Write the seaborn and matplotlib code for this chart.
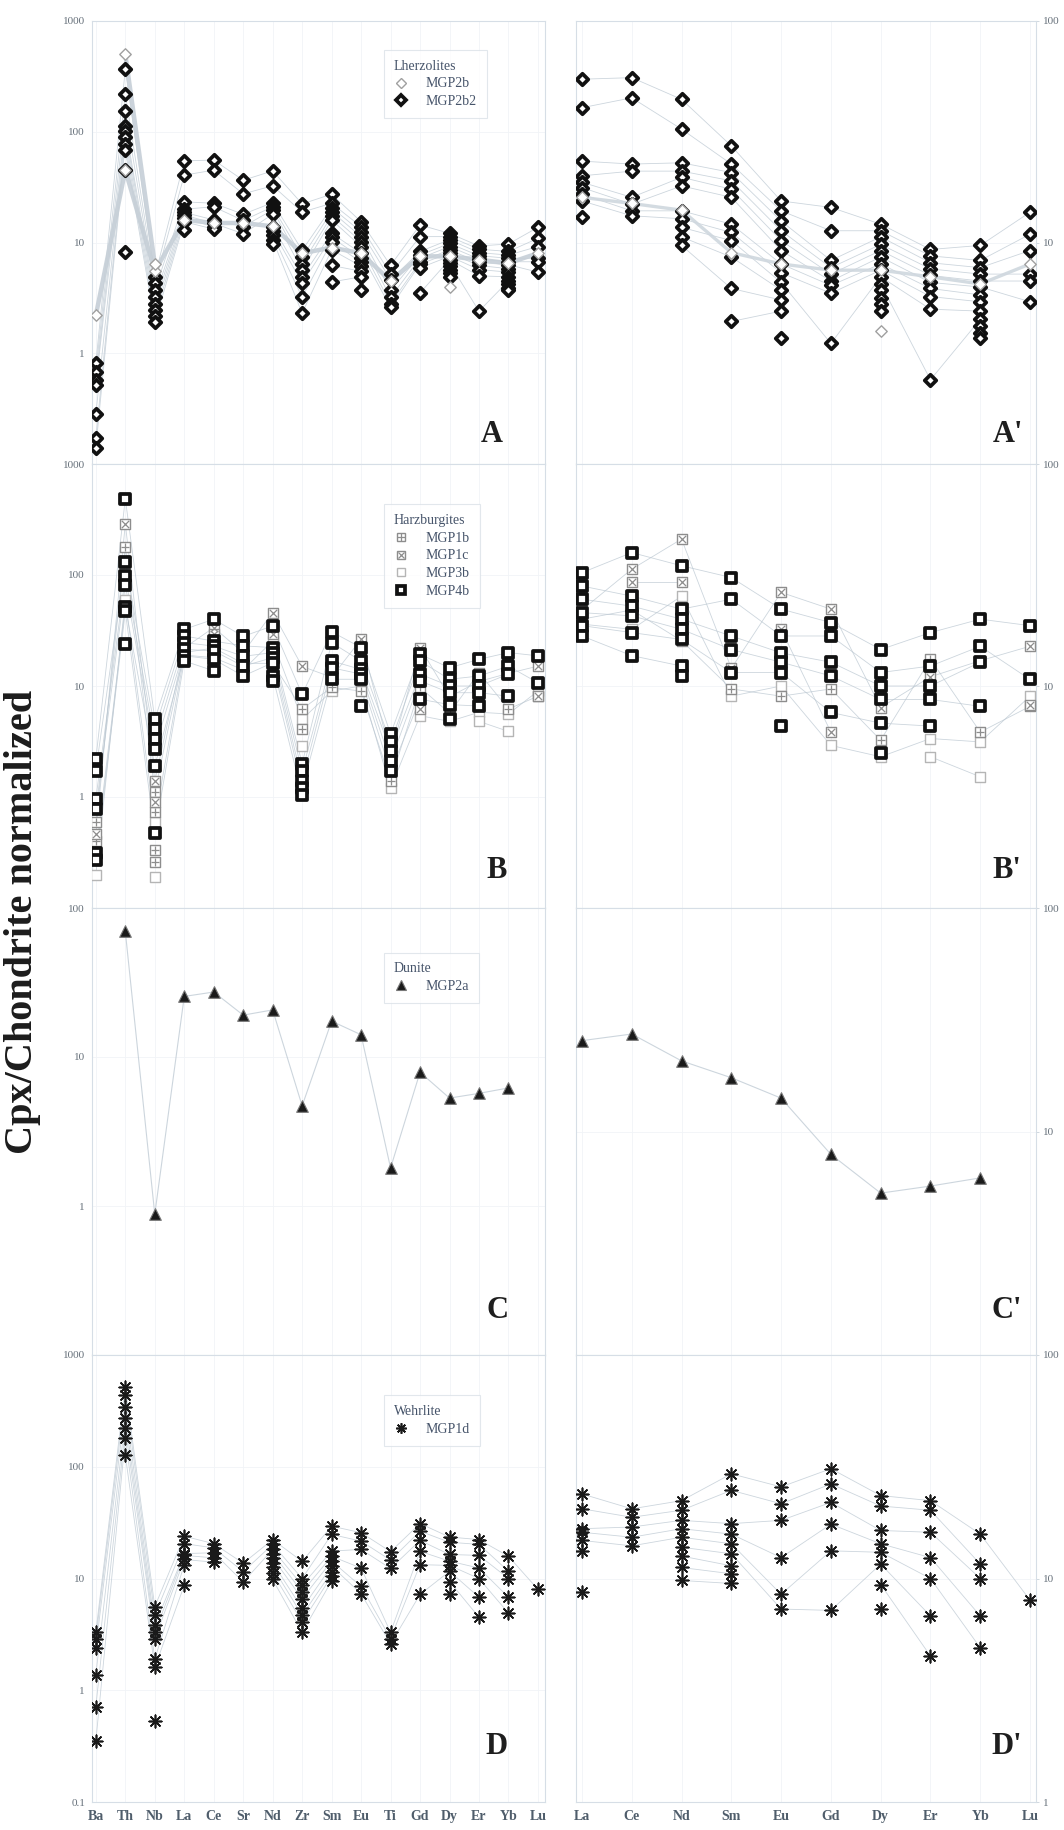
import numpy as np
import pandas as pd
import matplotlib
matplotlib.use("Agg")
import matplotlib.pyplot as plt
import seaborn as sns
from matplotlib.lines import Line2D
from matplotlib.ticker import FixedLocator, FixedFormatter, NullLocator

# ---------------------------------------------------------------- elements
TRACE = ["Ba", "Th", "Nb", "La", "Ce", "Sr", "Nd", "Zr", "Sm", "Eu",
         "Ti", "Gd", "Dy", "Er", "Yb", "Lu"]
REE = ["La", "Ce", "Nd", "Sm", "Eu", "Gd", "Dy", "Er", "Yb", "Lu"]

# ---------------------------------------------------------------- lherzolites
mgp2b = {
    "Ba": [2.2], "Th": [45, 500], "Nb": [5.5, 6.4], "La": [16], "Ce": [15],
    "Sr": [15], "Nd": [14], "Zr": [8], "Sm": [9], "Eu": [8], "Ti": [4.5],
    "Gd": [7.5], "Dy": [7.5, 4.0], "Er": [7], "Yb": [6.5], "Lu": [8],
}
mgp2b2 = {
    "Ba": [0.81, 0.68, 0.575, 0.52, 0.28, 0.17, 0.14],
    "Th": [367, 219, 155, 113, 102, 89, 77.6, 68, 45, 8.2],
    "Nb": [4.9, 4.3, 3.7, 3.2, 2.8, 2.45, 2.15, 1.9],
    "La": [54.6, 40.6, 23.3, 20, 18.7, 17.7, 16.5, 15.4, 13],
    "Ce": [55.5, 45, 22.6, 21, 16, 14.9, 13.9, 13.2],
    "Sr": [36.5, 27.5, 18, 15.8, 13.9, 12],
    "Nd": [44.3, 32.5, 22.9, 21, 19.7, 18, 13.9, 12.8, 11.7, 10.6, 9.7],
    "Zr": [22.3, 18.8, 8.5, 7.4, 6.4, 5.6, 4.9, 4.3, 3.2, 2.3],
    "Sm": [27.3, 22.6, 20.7, 19, 17.4, 16, 12.1, 11.1, 10.2, 8.6, 6.2, 4.4],
    "Eu": [15.4, 13.9, 12.5, 11.3, 10.2, 9.2, 8, 7.3, 6.6, 6.1, 5.5, 4.9, 3.7],
    "Ti": [6.2, 5.2, 4.6, 3.7, 3.2, 2.8, 2.6],
    "Gd": [14.4, 11.3, 8.3, 7.7, 7.2, 6.7, 6.4, 5.9, 3.5],
    "Dy": [12.1, 11.3, 10.6, 9.8, 9.2, 8.6, 8, 7.5, 7, 6.5, 6.1, 5.6, 5.3, 4.9],
    "Er": [9.3, 8.7, 8.1, 7.6, 7.1, 6.6, 6.2, 5.7, 5, 2.4],
    "Yb": [9.7, 8.3, 7.7, 7.2, 6.7, 6.3, 5.8, 5.4, 4.9, 4.5, 4.2, 3.9, 3.7],
    "Lu": [13.7, 10.9, 9.2, 7.2, 6.7, 5.4],
}

# ---------------------------------------------------------------- harzburgites
mgp1b = {
    "Ba": [0.6, 0.4], "Th": [180], "Nb": [1.1, 0.73, 0.33, 0.26], "La": [20],
    "Ce": [22], "Sr": [16], "Nd": [16], "Zr": [6.2, 4.1], "Sm": [9.7],
    "Eu": [9.0], "Ti": [1.4], "Gd": [9.7], "Dy": [5.7], "Er": [13.2],
    "Yb": [6.2], "Lu": [8.1],
}
mgp1c = {
    "Ba": [0.46], "Th": [290], "Nb": [1.4, 0.9], "La": [22], "Ce": [33.6, 29.3],
    "Sr": [20], "Nd": [45.9, 29.3], "Zr": [15], "Sm": [12], "Eu": [26.4, 18],
    "Ti": [2.4], "Gd": [22.2, 6.2], "Dy": [8], "Er": [11], "Yb": [13],
    "Lu": [15.1, 8.2],
}
mgp3b = {
    "Ba": [0.2], "Th": [60], "Nb": [0.6, 0.19], "La": [19], "Ce": [18],
    "Sr": [14], "Nd": [25.4], "Zr": [5, 2.9], "Sm": [9], "Eu": [10],
    "Ti": [1.2], "Gd": [5.4], "Dy": [4.8], "Er": [5.8, 4.8], "Yb": [5.6, 3.9],
    "Lu": [9],
}
mgp4b = {
    "Ba": [2.2, 1.73, 0.96, 0.78, 0.31, 0.27],
    "Th": [486, 132, 97, 81, 52, 47, 24],
    "Nb": [5, 4.1, 3.3, 2.7, 1.9, 0.47],
    "La": [32.4, 28.2, 24.6, 21.4, 18.7, 16.8],
    "Ce": [39.9, 25.4, 22.9, 20.7, 17.4, 13.7],
    "Sr": [28, 23, 18.5, 15.1, 12.3],
    "Nd": [34.8, 22.2, 20, 18, 16.2, 12.3, 11.1],
    "Zr": [8.4, 2.0, 1.7, 1.4, 1.2, 1.05],
    "Sm": [30.8, 24.6, 16.8, 14.6, 11.5],
    "Eu": [22.2, 16.8, 14.1, 12.8, 11.5, 6.6],
    "Ti": [3.7, 3.1, 2.6, 2.1, 1.7],
    "Gd": [19.3, 16.8, 12.8, 11.1, 7.6],
    "Dy": [14.6, 11.5, 10, 8.7, 6.8, 5],
    "Er": [17.4, 12.3, 10, 8.7, 6.6],
    "Yb": [20, 15.1, 12.8, 8.1],
    "Lu": [18.7, 10.7],
}

# ---------------------------------------------------------------- dunite
mgp2a = {
    "Th": [69.6], "Nb": [0.88], "La": [25.5], "Ce": [27.3], "Sr": [19.1],
    "Nd": [20.7], "Zr": [4.7], "Sm": [17.4], "Eu": [14.1], "Ti": [1.8],
    "Gd": [7.9], "Dy": [5.3], "Er": [5.7], "Yb": [6.2],
}

# ---------------------------------------------------------------- wehrlite
mgp1d = {
    "Ba": [3.3, 2.9, 2.4, 1.37, 0.71, 0.35],
    "Th": [520, 438, 345, 271, 220, 180, 127],
    "Nb": [5.6, 4.7, 3.8, 3.3, 2.9, 1.9, 1.6, 0.53],
    "La": [23.9, 20.5, 16.7, 16.1, 14.8, 13.3, 8.7],
    "Ce": [20.5, 18.8, 17, 15.3, 14],
    "Sr": [13.7, 11.5, 9.3],
    "Nd": [22.3, 20.2, 18.2, 16.7, 15.3, 13.8, 12.6, 11.2, 9.8],
    "Zr": [14.2, 10, 8.7, 7.6, 6.6, 5.4, 4.7, 4.1, 3.3],
    "Sm": [29.4, 24.8, 17.6, 15.8, 14.3, 12.9, 11.4, 10.5, 9.5],
    "Eu": [25.7, 21.6, 18.2, 12.4, 8.5, 7.3],
    "Ti": [17.4, 14.6, 12.3, 3.3, 2.9, 2.6],
    "Gd": [31, 26.5, 21.9, 17.5, 13.3, 7.2],
    "Dy": [23.5, 21.1, 16.4, 14.3, 13.1, 11.6, 9.4, 7.3],
    "Er": [22.3, 20.2, 16.1, 12.4, 10, 6.8, 4.5],
    "Yb": [15.8, 11.6, 10, 6.8, 4.9],
    "Lu": [8],
}

# ---------------------------------------------------------------- styles
LINE_C = "#bcc8d2"
STYLES = {
    "MGP2b":  [dict(marker="D", s=34, facecolor="white", edgecolor="#a0a0a0", linewidth=1.0)],
    "MGP2b2": [dict(marker="D", s=34, facecolor="white", edgecolor="#111111", linewidth=2.7)],
    "MGP1b":  [dict(marker="s", s=48, facecolor="white", edgecolor="#8d8d8d", linewidth=1.0),
               dict(marker="+", s=40, color="#8d8d8d", edgecolor=None, linewidth=0.9)],
    "MGP1c":  [dict(marker="s", s=48, facecolor="white", edgecolor="#8d8d8d", linewidth=1.0),
               dict(marker="x", s=28, color="#8d8d8d", edgecolor=None, linewidth=0.9)],
    "MGP3b":  [dict(marker="s", s=48, facecolor="white", edgecolor="#b5b5b5", linewidth=1.0)],
    "MGP4b":  [dict(marker="s", s=42, facecolor="white", edgecolor="#111111", linewidth=2.7)],
    "MGP2a":  [dict(marker="^", s=70, facecolor="#1a1a1a", edgecolor="#777777", linewidth=0.8)],
    "MGP1d":  [dict(marker=(8, 2, 0), s=80, color="#1a1a1a", edgecolor=None, linewidth=1.2)],
}


def legend_handle(name):
    hs = []
    for st in STYLES[name]:
        m = st["marker"]
        size = np.sqrt(st["s"]) * 0.85
        if m in ("+", "x") or isinstance(m, tuple):
            hs.append(Line2D([], [], ls="none", marker=m, color=st["color"],
                             markersize=size, mew=st["linewidth"]))
        else:
            hs.append(Line2D([], [], ls="none", marker=m, mfc=st["facecolor"],
                             mec=st["edgecolor"], markersize=size,
                             mew=st["linewidth"]))
    return tuple(hs) if len(hs) > 1 else hs[0]


def long_table(data, elements):
    rows = []
    for el in elements:
        for run, v in enumerate(data.get(el, [])):
            rows.append({"x": elements.index(el), "value": v, "run": run})
    df = pd.DataFrame(rows).sort_values(["run", "x"]).reset_index(drop=True)
    # split a run wherever an element is missing so lines do not bridge gaps
    seg = df.groupby("run")["x"].transform(lambda s: (s.diff().fillna(1) > 1).cumsum())
    df["unit"] = df["run"].astype(str) + "-" + seg.astype(str)
    return df


def draw_series(ax, name, data, elements, lw=0.6, lc=LINE_C, zline=1, alpha=0.75):
    df = long_table(data, elements)
    sns.lineplot(data=df, x="x", y="value", units="unit", estimator=None,
                 sort=True, color=lc, lw=lw, alpha=alpha, ax=ax, legend=False,
                 zorder=zline)
    for st in STYLES[name]:
        sns.scatterplot(data=df, x="x", y="value", ax=ax, legend=False,
                        zorder=4, **st)


# ---------------------------------------------------------------- layout
sns.set_theme(style="white")
plt.rcParams["font.family"] = ["Liberation Serif", "DejaVu Serif"]

W, H = 1064, 1830
fig = plt.figure(figsize=(W / 100, H / 100), dpi=100)
fig.patch.set_facecolor("white")

ROW_Y = [21, 464, 908, 1355, 1802]
LX = (92, 545)
RX = (576, 1036)


def make_ax(xr, r):
    y0, y1 = ROW_Y[r], ROW_Y[r + 1]
    return fig.add_axes([xr[0] / W, 1 - y1 / H, (xr[1] - xr[0]) / W, (y1 - y0) / H])


def style_ax(ax, elements, ylim, ylabels, side, show_x):
    ax.set_yscale("log")
    ax.set_ylim(*ylim)
    n = len(elements)
    if side == "left":
        ax.set_xlim(-0.13, n - 1 + 0.24)
    else:
        ax.set_xlim(-0.12, n - 1 + 0.12)
    ax.set_xlabel("")
    ax.set_ylabel("")
    for sp in ax.spines.values():
        sp.set_color("#d6dee6")
        sp.set_linewidth(0.8)
    ax.grid(True, color="#f1f4f7", lw=0.6, zorder=0)
    ax.set_axisbelow(True)
    ax.yaxis.set_major_locator(FixedLocator(ylabels))
    ax.yaxis.set_major_formatter(FixedFormatter([("%g" % v) for v in ylabels]))
    ax.yaxis.set_minor_locator(NullLocator())
    ax.xaxis.set_major_locator(FixedLocator(list(range(n))))
    if show_x:
        ax.xaxis.set_major_formatter(FixedFormatter(elements))
    else:
        ax.xaxis.set_major_formatter(FixedFormatter([""] * n))
    ax.tick_params(axis="x", length=0, labelsize=10, labelcolor="#4f5d6b", pad=6)
    for t in ax.get_xticklabels():
        t.set_fontweight("bold")
    if side == "right":
        ax.yaxis.tick_right()
    ax.tick_params(axis="y", length=2, width=0.6, color="#c9d2da",
                   labelsize=8, labelcolor="#66707a", pad=3)


def add_legend(ax, title, names, anchor):
    handles = [legend_handle(n) for n in names]
    leg = ax.legend(handles, names, title=title, loc="upper left",
                    bbox_to_anchor=anchor, fontsize=10, title_fontsize=10,
                    frameon=True, fancybox=False, edgecolor="#dbe2e8",
                    handletextpad=1.3, borderpad=0.7, labelspacing=0.35,
                    handlelength=1.0, borderaxespad=0, alignment="left")
    leg.get_frame().set_linewidth(0.8)
    for t in leg.get_texts():
        t.set_color("#46546a")
    leg.get_title().set_color("#46546a")
    leg.set_zorder(6)


# ---------------------------------------------------------------- row A
axA = make_ax(LX, 0)
axA.set_yscale("log")
draw_series(axA, "MGP2b2", mgp2b2, TRACE)
draw_series(axA, "MGP2b", mgp2b, TRACE, lw=3.2, lc="#c6cfd7", zline=2, alpha=0.9)
style_ax(axA, TRACE, (0.1, 1000), [1000, 100, 10, 1], "left", False)
add_legend(axA, "Lherzolites", ["MGP2b", "MGP2b2"], (0.645, 0.935))

axA2 = make_ax(RX, 0)
axA2.set_yscale("log")
draw_series(axA2, "MGP2b2", {k: mgp2b2[k] for k in REE}, REE)
draw_series(axA2, "MGP2b", {k: mgp2b[k] for k in REE}, REE, lw=2.4, lc="#cfd7de", zline=2, alpha=0.9)
style_ax(axA2, REE, (1, 100), [100, 10], "right", False)

# ---------------------------------------------------------------- row B
axB = make_ax(LX, 1)
axB.set_yscale("log")
for nm, d in [("MGP3b", mgp3b), ("MGP1b", mgp1b), ("MGP1c", mgp1c), ("MGP4b", mgp4b)]:
    draw_series(axB, nm, d, TRACE)
style_ax(axB, TRACE, (0.1, 1000), [1000, 100, 10, 1], "left", False)
add_legend(axB, "Harzburgites", ["MGP1b", "MGP1c", "MGP3b", "MGP4b"], (0.645, 0.91))

axB2 = make_ax(RX, 1)
axB2.set_yscale("log")
for nm, d in [("MGP3b", mgp3b), ("MGP1b", mgp1b), ("MGP1c", mgp1c), ("MGP4b", mgp4b)]:
    draw_series(axB2, nm, {k: d[k] for k in REE if k in d}, REE)
style_ax(axB2, REE, (1, 100), [100, 10], "right", False)

# ---------------------------------------------------------------- row C
axC = make_ax(LX, 2)
axC.set_yscale("log")
draw_series(axC, "MGP2a", mgp2a, TRACE, lw=0.8)
style_ax(axC, TRACE, (0.1, 100), [100, 10, 1], "left", False)
add_legend(axC, "Dunite", ["MGP2a"], (0.645, 0.90))

axC2 = make_ax(RX, 2)
axC2.set_yscale("log")
draw_series(axC2, "MGP2a", {k: mgp2a[k] for k in REE if k in mgp2a}, REE, lw=0.8)
style_ax(axC2, REE, (1, 100), [100, 10], "right", False)

# ---------------------------------------------------------------- row D
axD = make_ax(LX, 3)
axD.set_yscale("log")
draw_series(axD, "MGP1d", mgp1d, TRACE)
style_ax(axD, TRACE, (0.1, 1000), [1000, 100, 10, 1, 0.1], "left", True)
add_legend(axD, "Wehrlite", ["MGP1d"], (0.645, 0.91))

axD2 = make_ax(RX, 3)
axD2.set_yscale("log")
draw_series(axD2, "MGP1d", {k: mgp1d[k] for k in REE}, REE)
style_ax(axD2, REE, (1, 100), [100, 10, 1], "right", True)

# ---------------------------------------------------------------- panel letters
letters = [("A", 492, 434), ("A'", 1008, 434), ("B", 497, 870), ("B'", 1007, 870),
           ("C", 497, 1310), ("C'", 1007, 1310), ("D", 497, 1747), ("D'", 1007, 1747)]
for txt, px, py in letters:
    fig.text(px / W, 1 - py / H, txt, ha="center", va="center",
             fontsize=22, fontweight="bold", color="#1e1e1e")

fig.text(23 / W, 1 - 922 / H, "Cpx/Chondrite normalized", rotation=90,
         ha="center", va="center", fontsize=29, fontweight="bold", color="#1c1c1c")

fig.savefig("out.png", dpi=100, facecolor="white")
